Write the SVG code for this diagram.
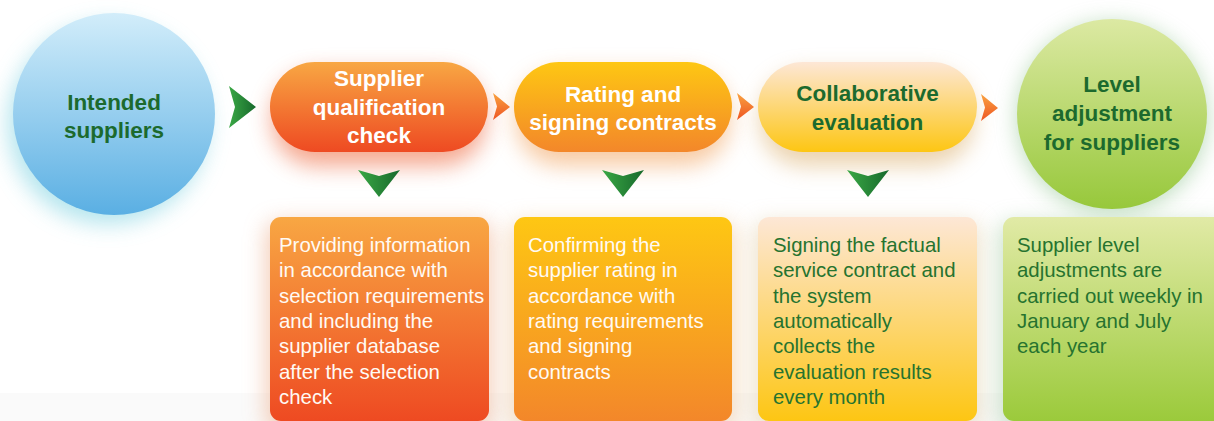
<svg xmlns="http://www.w3.org/2000/svg" width="1214" height="421" viewBox="0 0 1214 421">
  <defs>
    <linearGradient id="gBlue" x1="0" y1="0" x2="0" y2="1">
      <stop offset="0" stop-color="#d2edfa"/>
      <stop offset="1" stop-color="#5aafe3"/>
    </linearGradient>
    <linearGradient id="gGreenCircle" x1="0" y1="0" x2="0" y2="1">
      <stop offset="0" stop-color="#dce9a3"/>
      <stop offset="1" stop-color="#97c83b"/>
    </linearGradient>
    <linearGradient id="gRed" x1="0" y1="0" x2="0" y2="1">
      <stop offset="0" stop-color="#f8a743"/>
      <stop offset="1" stop-color="#ee4a22"/>
    </linearGradient>
    <linearGradient id="gOrange" x1="0" y1="0" x2="0" y2="1">
      <stop offset="0" stop-color="#fec713"/>
      <stop offset="1" stop-color="#f3872a"/>
    </linearGradient>
    <linearGradient id="gPeach" x1="0" y1="0" x2="0" y2="1">
      <stop offset="0" stop-color="#fde7d6"/>
      <stop offset="1" stop-color="#fdc613"/>
    </linearGradient>
    <linearGradient id="gLime" x1="0" y1="0" x2="0" y2="1">
      <stop offset="0" stop-color="#e1eaa6"/>
      <stop offset="1" stop-color="#9bca3b"/>
    </linearGradient>
    <linearGradient id="gArrowGreen" x1="0" y1="0" x2="1" y2="0">
      <stop offset="0" stop-color="#3aa845"/>
      <stop offset="1" stop-color="#17692c"/>
    </linearGradient>
    <linearGradient id="gArrowOrange" x1="0" y1="0" x2="0" y2="1">
      <stop offset="0" stop-color="#f9a23f"/>
      <stop offset="1" stop-color="#ee5523"/>
    </linearGradient>
    <filter id="soft" x="-50%" y="-50%" width="200%" height="200%">
      <feGaussianBlur stdDeviation="11"/>
    </filter>
    <path id="arrowRight" d="M0,0 L27,21 L0,42 L6,21 Z"/>
    <path id="arrowDown" d="M0,0 L21,6 L42,0 L21,27 Z"/>
    <path id="chevron" d="M0,0 L17,14 L0,27 L4,13.5 Z"/>
  </defs>
  <style>
    .title { font-family: "Liberation Sans", Arial, sans-serif; font-size: 22.5px; font-weight: bold; text-anchor: middle; }
    .desc { font-family: "Liberation Sans", Arial, sans-serif; font-size: 20.4px; }
    .white { fill: #ffffff; }
    .light { fill: #fffaf4; }
    .green { fill: #1c6a2e; }
    .dgreen { fill: #26732f; }
    .halo { filter: url(#soft); }
  </style>

  <!-- faint floor band -->
  <rect x="0" y="393" width="1214" height="28" fill="#fafafa"/>

  <!-- soft halos behind the shapes -->
  <g id="halos">
    <circle class="halo" cx="108" cy="124" r="100" fill="#a6e0ea" opacity="0.85"/>
    <rect class="halo" x="272" y="72" width="214" height="94" rx="45" fill="#f07a55" opacity="0.65"/>
    <rect class="halo" x="516" y="72" width="214" height="94" rx="45" fill="#f2a05a" opacity="0.55"/>
    <rect class="halo" x="760" y="72" width="214" height="94" rx="45" fill="#d9a860" opacity="0.5"/>
    <circle class="halo" cx="1112" cy="118" r="95" fill="#8fc48f" opacity="0.6"/>
    <rect class="halo" x="266" y="222" width="226" height="210" rx="12" fill="#efb89a" opacity="0.7"/>
    <rect class="halo" x="510" y="222" width="226" height="210" rx="12" fill="#efc69a" opacity="0.6"/>
    <rect class="halo" x="754" y="222" width="226" height="210" rx="12" fill="#e2cfa8" opacity="0.6"/>
    <rect class="halo" x="999" y="222" width="226" height="210" rx="12" fill="#a9cfa9" opacity="0.6"/>
  </g>

  <!-- connectors -->
  <g id="connectors">
    <use href="#arrowRight" x="229" y="86" fill="url(#gArrowGreen)"/>
    <use href="#chevron" x="493" y="93" fill="url(#gArrowOrange)"/>
    <use href="#chevron" x="737" y="93" fill="url(#gArrowOrange)"/>
    <use href="#chevron" x="981" y="94" fill="url(#gArrowOrange)"/>
    <use href="#arrowDown" x="358" y="170" fill="url(#gArrowGreen)"/>
    <use href="#arrowDown" x="602" y="170" fill="url(#gArrowGreen)"/>
    <use href="#arrowDown" x="847" y="170" fill="url(#gArrowGreen)"/>
  </g>

  <g id="node-intended">
    <circle cx="114" cy="114" r="101" fill="url(#gBlue)"/>
    <text class="title green" x="114" y="110">Intended</text>
    <text class="title green" x="114" y="138">suppliers</text>
  </g>

  <g id="node-qualification">
    <rect x="270" y="62" width="218" height="90" rx="45" fill="url(#gRed)"/>
    <text class="title white" x="379" y="86">Supplier</text>
    <text class="title white" x="379" y="114.5">qualification</text>
    <text class="title white" x="379" y="143">check</text>
  </g>

  <g id="node-rating">
    <rect x="514" y="62" width="218" height="90" rx="45" fill="url(#gOrange)"/>
    <text class="title white" x="623" y="101.5">Rating and</text>
    <text class="title white" x="623" y="129.5">signing contracts</text>
  </g>

  <g id="node-evaluation">
    <rect x="758" y="62" width="219" height="90" rx="45" fill="url(#gPeach)"/>
    <text class="title green" x="867.5" y="101">Collaborative</text>
    <text class="title green" x="867.5" y="130">evaluation</text>
  </g>

  <g id="node-level">
    <circle cx="1112" cy="114" r="95" fill="url(#gGreenCircle)"/>
    <text class="title green" x="1112" y="92">Level</text>
    <text class="title green" x="1112" y="121">adjustment</text>
    <text class="title green" x="1112" y="150">for suppliers</text>
  </g>

  <g id="detail-qualification">
    <rect x="270" y="217" width="219" height="204" rx="11" fill="url(#gRed)"/>
    <text class="desc light" x="279">
      <tspan x="279" y="252">Providing information</tspan>
      <tspan x="279" y="277.3">in accordance with</tspan>
      <tspan x="279" y="302.6">selection requirements</tspan>
      <tspan x="279" y="327.9">and including the</tspan>
      <tspan x="279" y="353.2">supplier database</tspan>
      <tspan x="279" y="378.5">after the selection</tspan>
      <tspan x="279" y="403.8">check</tspan>
    </text>
  </g>

  <g id="detail-rating">
    <rect x="514" y="217" width="218" height="204" rx="11" fill="url(#gOrange)"/>
    <text class="desc light" x="528">
      <tspan x="528" y="252">Confirming the</tspan>
      <tspan x="528" y="277.3">supplier rating in</tspan>
      <tspan x="528" y="302.6">accordance with</tspan>
      <tspan x="528" y="327.9">rating requirements</tspan>
      <tspan x="528" y="353.2">and signing</tspan>
      <tspan x="528" y="378.5">contracts</tspan>
    </text>
  </g>

  <g id="detail-evaluation">
    <rect x="758" y="217" width="219" height="204" rx="11" fill="url(#gPeach)"/>
    <text class="desc dgreen" x="773">
      <tspan x="773" y="252">Signing the factual</tspan>
      <tspan x="773" y="277.3">service contract and</tspan>
      <tspan x="773" y="302.6">the system</tspan>
      <tspan x="773" y="327.9">automatically</tspan>
      <tspan x="773" y="353.2">collects the</tspan>
      <tspan x="773" y="378.5">evaluation results</tspan>
      <tspan x="773" y="403.8">every month</tspan>
    </text>
  </g>

  <g id="detail-level">
    <rect x="1003" y="217" width="222" height="204" rx="11" fill="url(#gLime)"/>
    <text class="desc dgreen" x="1017">
      <tspan x="1017" y="252">Supplier level</tspan>
      <tspan x="1017" y="277.3">adjustments are</tspan>
      <tspan x="1017" y="302.6">carried out weekly in</tspan>
      <tspan x="1017" y="327.9">January and July</tspan>
      <tspan x="1017" y="353.2">each year</tspan>
    </text>
  </g>
</svg>
